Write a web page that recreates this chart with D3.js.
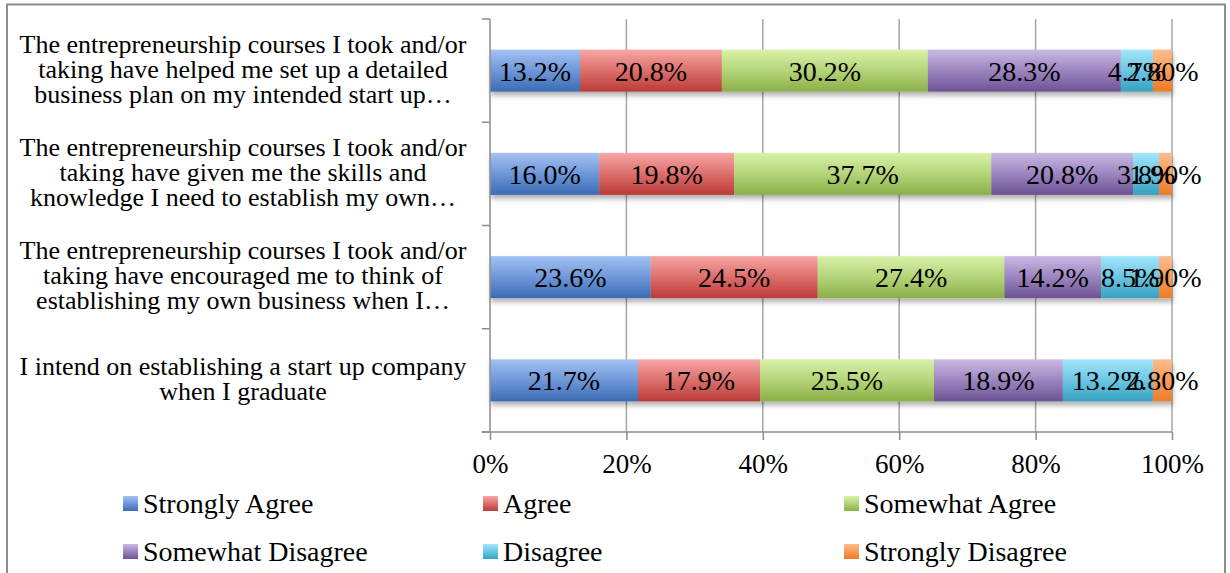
<!DOCTYPE html>
<html><head><meta charset="utf-8">
<script src="https://cdn.jsdelivr.net/npm/d3@7"></script>
<style>
html,body{margin:0;padding:0;background:#fff;}
svg{display:block;font-family:"Liberation Serif","DejaVu Serif",serif;}
</style></head>
<body>
<svg id="chart" width="1230" height="573"></svg>
<script>
// ---- data ----
const categories = [
  ["The entrepreneurship courses I took and/or","taking have helped me set up a detailed","business plan on my intended start up…"],
  ["The entrepreneurship courses I took and/or","taking have given me the skills and","knowledge I need to establish my own…"],
  ["The entrepreneurship courses I took and/or","taking have encouraged me to think of","establishing my own business when I…"],
  ["I intend on establishing a start up company","when I graduate"]
];
const seriesNames = ["Strongly Agree","Agree","Somewhat Agree","Somewhat Disagree","Disagree","Strongly Disagree"];
const stronglyAgree    = [13.2, 16.0, 23.6, 21.7];
const agree            = [20.8, 19.8, 24.5, 17.9];
const somewhatAgree    = [30.2, 37.7, 27.4, 25.5];
const somewhatDisagree = [28.3, 20.8, 14.2, 18.9];
const disagree         = [4.7, 3.8, 8.5, 13.2];
const stronglyDisagree = [2.8, 1.9, 1.9, 2.8];
const xTicks = [0, 0.2, 0.4, 0.6, 0.8, 1.0];
const seriesValues = [stronglyAgree, agree, somewhatAgree, somewhatDisagree, disagree, stronglyDisagree];
const labelFormats = [".1%", ".1%", ".1%", ".1%", ".1%", ".2%"];
const gradColors = [
  ["#a3c2f3","#6f97d8","#3a6cb4"],
  ["#f7a7a4","#dc6f6c","#bb3b38"],
  ["#d8f2a8","#b4d479","#8baf47"],
  ["#cab9e3","#9c85bf","#6c5293"],
  ["#a3e6fb","#6cc6e2","#35a1c2"],
  ["#fdbc8f","#f79c5a","#ef7b25"]
];

// ---- layout ----
const svg = d3.select("#chart");
const plotLeft = 490, plotRight = 1172, plotTop = 19, plotBottom = 432;

const rows = categories.map((c, i) => {
  const r = {idx: i};
  seriesNames.forEach((s, j) => r[s] = seriesValues[j][i]);
  return r;
});
const stacked = d3.stack().keys(seriesNames).offset(d3.stackOffsetExpand)(rows);

const x = d3.scaleLinear().domain([0, 1]).range([plotLeft, plotRight]);
const pIn = 0.593;
const y = d3.scaleBand().domain(d3.range(categories.length)).range([plotTop, plotBottom])
  .paddingInner(pIn).paddingOuter(pIn / 2);

// defs
const defs = svg.append("defs");
gradColors.forEach((c, j) => {
  const g = defs.append("linearGradient").attr("id", "g" + j)
    .attr("x1", 0).attr("y1", 0).attr("x2", 0).attr("y2", 1);
  g.append("stop").attr("offset", "0%").attr("stop-color", c[0]);
  g.append("stop").attr("offset", "50%").attr("stop-color", c[1]);
  g.append("stop").attr("offset", "100%").attr("stop-color", c[2]);
});
const f = defs.append("filter").attr("id", "shadow").attr("x", "-5%").attr("y", "-20%").attr("width", "110%").attr("height", "160%");
f.append("feDropShadow").attr("dx", 1).attr("dy", 4).attr("stdDeviation", 2.5)
  .attr("flood-color", "#000").attr("flood-opacity", 0.3);

// outer border
svg.append("rect").attr("x", 7).attr("y", 4.5).attr("width", 1218).attr("height", 600)
  .attr("fill", "none").attr("stroke", "#8c8c8c").attr("stroke-width", 2);

// gridlines
svg.append("g").selectAll("line").data(xTicks.slice(1)).join("line")
  .attr("x1", d => x(d)).attr("x2", d => x(d))
  .attr("y1", plotTop).attr("y2", plotBottom)
  .attr("stroke", "#a6a6a6").attr("stroke-width", 1.5);

// bars
const layer = svg.append("g").attr("filter", "url(#shadow)");
stacked.forEach((s, j) => {
  layer.append("g").selectAll("rect").data(s).join("rect")
    .attr("x", d => x(d[0])).attr("width", d => x(d[1]) - x(d[0]))
    .attr("y", (d, i) => y(i)).attr("height", y.bandwidth())
    .attr("fill", "url(#g" + j + ")");
});

// x axis
const xAxis = d3.axisBottom(x).tickValues(xTicks).tickFormat(d3.format(".0%")).tickSize(8).tickPadding(14);
const gx = svg.append("g").attr("transform", `translate(0,${plotBottom})`).call(xAxis);
gx.select(".domain").remove();
gx.append("line").attr("x1", 482).attr("x2", plotRight).attr("y1", 0).attr("y2", 0)
  .attr("stroke", "#8c8c8c").attr("stroke-width", 1.5);
gx.selectAll(".tick line").attr("stroke", "#8c8c8c").attr("stroke-width", 1.5);
gx.selectAll(".tick text").attr("font-size", 27).attr("fill", "#000")
  .attr("font-family", "Liberation Serif");

// y axis (category boundaries)
const gy = svg.append("g");
gy.append("line").attr("x1", plotLeft).attr("x2", plotLeft).attr("y1", plotTop).attr("y2", plotBottom)
  .attr("stroke", "#8c8c8c").attr("stroke-width", 1.5);
const step = y.step();
gy.selectAll("line.t").data(d3.range(categories.length + 1)).join("line").attr("class", "t")
  .attr("x1", 482).attr("x2", plotLeft)
  .attr("y1", i => plotTop + i * step).attr("y2", i => plotTop + i * step)
  .attr("stroke", "#8c8c8c").attr("stroke-width", 1.5);

// category labels
categories.forEach((lines, i) => {
  const c = y(i) + y.bandwidth() / 2;
  const first = c - (lines.length - 1) * 12.5 + 7;
  const t = svg.append("text").attr("text-anchor", "middle").attr("font-size", 26).attr("fill", "#000");
  lines.forEach((ln, k) => {
    t.append("tspan").attr("x", 243).attr("y", first + k * 25).text(ln);
  });
});

// data labels
stacked.forEach((s, j) => {
  const fmt = d3.format(labelFormats[j]);
  svg.append("g").selectAll("text").data(s).join("text")
    .attr("x", d => (x(d[0]) + x(d[1])) / 2)
    .attr("y", (d, i) => y(i) + y.bandwidth() / 2 + 10)
    .attr("text-anchor", "middle").attr("font-size", 28).attr("fill", "#000")
    .text((d, i) => fmt(seriesValues[j][i] / 100));
});

// legend
const legendPos = [[123, 503.5], [483, 503.5], [844, 503.5], [123, 551.5], [483, 551.5], [844, 551.5]];
const lg = svg.append("g");
seriesNames.forEach((s, j) => {
  const [lx, ly] = legendPos[j];
  lg.append("rect").attr("x", lx).attr("y", ly - 7.5).attr("width", 15).attr("height", 15)
    .attr("fill", "url(#g" + j + ")");
  lg.append("text").attr("x", lx + 20).attr("y", ly + 9).attr("font-size", 28).attr("fill", "#000").text(s);
});
</script>
</body></html>
